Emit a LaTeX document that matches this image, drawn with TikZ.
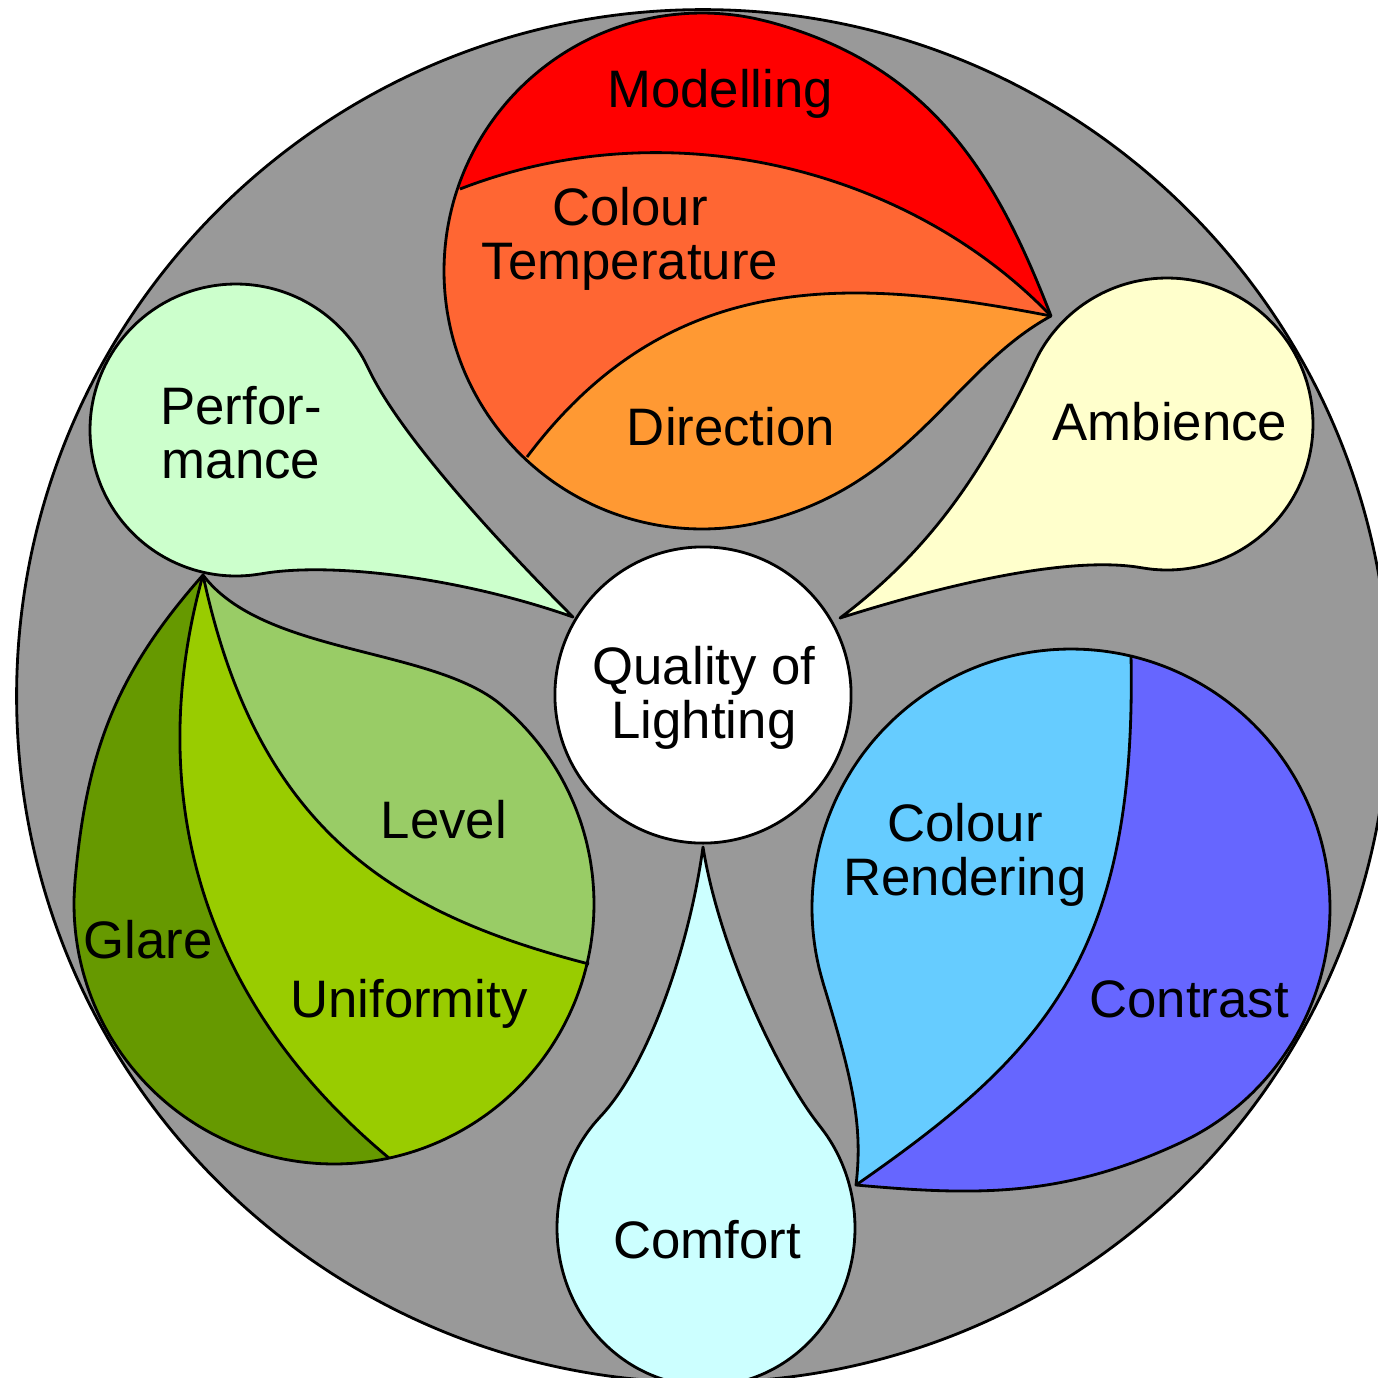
\documentclass[tikz,border=0pt]{standalone}
\usepackage{fontspec}
\setmainfont{Liberation Sans}
\definecolor{ground}{HTML}{999999}
\definecolor{cModel}{HTML}{FF0000}
\definecolor{cTemp}{HTML}{FF6633}
\definecolor{cDir}{HTML}{FF9933}
\definecolor{cAmb}{HTML}{FFFFCC}
\definecolor{cPerf}{HTML}{CCFFCC}
\definecolor{cComf}{HTML}{CCFFFF}
\definecolor{cLevel}{HTML}{99CC66}
\definecolor{cUnif}{HTML}{99CC00}
\definecolor{cGlare}{HTML}{669900}
\definecolor{cRend}{HTML}{66CCFF}
\definecolor{cContr}{HTML}{6666FF}
% drop outlines (pixel coordinates, y downwards)
\def\redDrop{(1051,316) .. controls (954.2,368.8) and (913.7,481.3) .. (768.8,520.2) -- plot[smooth,domain=75:285,samples=60] ({702+258*cos(\x)},{271+258*sin(\x)}) .. controls (933,65.8) and (997,176.5) .. (1051,316) -- cycle}
\def\greenDrop{(203,575) .. controls (263,655) and (432.2,646.9) .. (501.1,704.8) -- plot[smooth,domain=-50:185,samples=60] ({334+260*cos(\x)},{904+260*sin(\x)}) .. controls (86.3,751.8) and (115.9,673.2) .. (203,575) -- cycle}
\def\blueDrop{(856,1185) .. controls (863.2,1125.4) and (852.5,1079.3) .. (823.3,983.7) -- plot[smooth,domain=163:425,samples=70] ({1071+259*cos(\x)},{908+259*sin(\x)}) .. controls (1062.7,1197.7) and (975.4,1195.8) .. (856,1185) -- cycle}
\def\perfDrop{(573,617) .. controls (460.2,577.4) and (330.4,561.6) .. (261.4,573.8) -- plot[smooth,domain=80:335,samples=60] ({236+146*cos(\x)},{430+146*sin(\x)}) .. controls (402.1,440.8) and (517,561) .. (573,617) -- cycle}
\def\ambDrop{(840,618) .. controls (936,546) and (988.2,462) .. (1034.7,362.3) -- plot[smooth,domain=205:460,samples=60] ({1167+146*cos(\x)},{424+146*sin(\x)}) .. controls (1072.7,555.6) and (954,582) .. (840,618) -- cycle}
\def\comfDrop{(703,847) .. controls (718.7,945.8) and (776.7,1071.8) .. (820.1,1126.4) -- plot[smooth,domain=-40:225,samples=70] ({706+149*cos(\x)},{1228+158*sin(\x)}) .. controls (648.6,1065.3) and (689.5,946) .. (703,847) -- cycle}
% dividers
\def\redDivA{(460,189) .. controls (674,106) and (913,172) .. (1051,316)}
\def\redDivB{(527,457) .. controls (671,265) and (855,278) .. (1051,316)}
\def\greenDivA{(203,575) .. controls (143.6,788.2) and (196.5,998) .. (389,1158)}
\def\greenDivB{(203,575) .. controls (257.6,831.8) and (395,914) .. (589,964)}
\def\blueDiv{(1131,655) .. controls (1137,955) and (1044.6,1053.9) .. (856,1185)}
\begin{document}
\begin{tikzpicture}[x=0.01cm,y=-0.01cm,line width=0.8pt,line join=round,
  edge/.style={draw=black},
  lbl/.style={font=\fontsize{15}{15.2}\selectfont,inner sep=0pt,anchor=base,align=center}]
\useasboundingbox (0,0) rectangle (1378,1378);
\clip (0,0) rectangle (1378,1378);
% background disc
\path[edge,fill=ground] (703,696) circle[radius=6.86cm];
% red drop: Modelling / Colour Temperature / Direction
\fill[cDir] \redDrop;
\begin{scope}
  \clip \redDrop;
  \fill[cTemp] (400,520) -- \redDivB -- (1110,330) -- (1110,-20) -- (400,-20) -- cycle;
  \fill[cModel] (400,210) -- \redDivA -- (1110,330) -- (1110,-20) -- (400,-20) -- cycle;
\end{scope}
\draw \redDivA;
\draw \redDivB;
\draw \redDrop;
% green drop: Glare / Uniformity / Level
\fill[cGlare] \greenDrop;
\begin{scope}
  \clip \greenDrop;
  \fill[cUnif] (203,540) -- \greenDivA -- (420,1200) -- (700,1200) -- (700,540) -- cycle;
  \fill[cLevel] (203,540) -- \greenDivB -- (640,975) -- (700,975) -- (700,540) -- cycle;
\end{scope}
\draw \greenDivA;
\draw \greenDivB;
\draw \greenDrop;
% blue drop: Colour Rendering / Contrast
\fill[cContr] \blueDrop;
\begin{scope}
  \clip \blueDrop;
  \fill[cRend] (1131,600) -- \blueDiv -- (830,1210) -- (780,1210) -- (780,600) -- cycle;
\end{scope}
\draw \blueDiv;
\draw \blueDrop;
% single drops
\path[edge,fill=cPerf] \perfDrop;
\path[edge,fill=cAmb] \ambDrop;
\path[edge,fill=cComf] \comfDrop;
% centre
\node[edge,fill=white,circle,minimum size=2.96cm,inner sep=0pt] (hub) at (703,695) {};
% labels (anchor = baseline of the last line)
\node[lbl] (tQuality) at (704,738) {Quality of\\Lighting};
\node[lbl] (tModel) at (720,107) {Modelling};
\node[lbl] (tTemp) at (630,279) {Colour\\Temperature};
\node[lbl] (tDir) at (731,445) {Direction};
\node[lbl] (tAmb) at (1170,440) {Ambience};
\node[lbl] (tPerf) at (241,478) {Perfor-\\mance};
\node[lbl] (tLevel) at (444,838) {Level};
\node[lbl] (tGlare) at (148,958) {Glare};
\node[lbl] (tUnif) at (409,1017) {Uniformity};
\node[lbl] (tRend) at (965,895) {Colour\\Rendering};
\node[lbl] (tContr) at (1189,1017) {Contrast};
\node[lbl] (tComf) at (707,1258) {Comfort};
\end{tikzpicture}
\end{document}
